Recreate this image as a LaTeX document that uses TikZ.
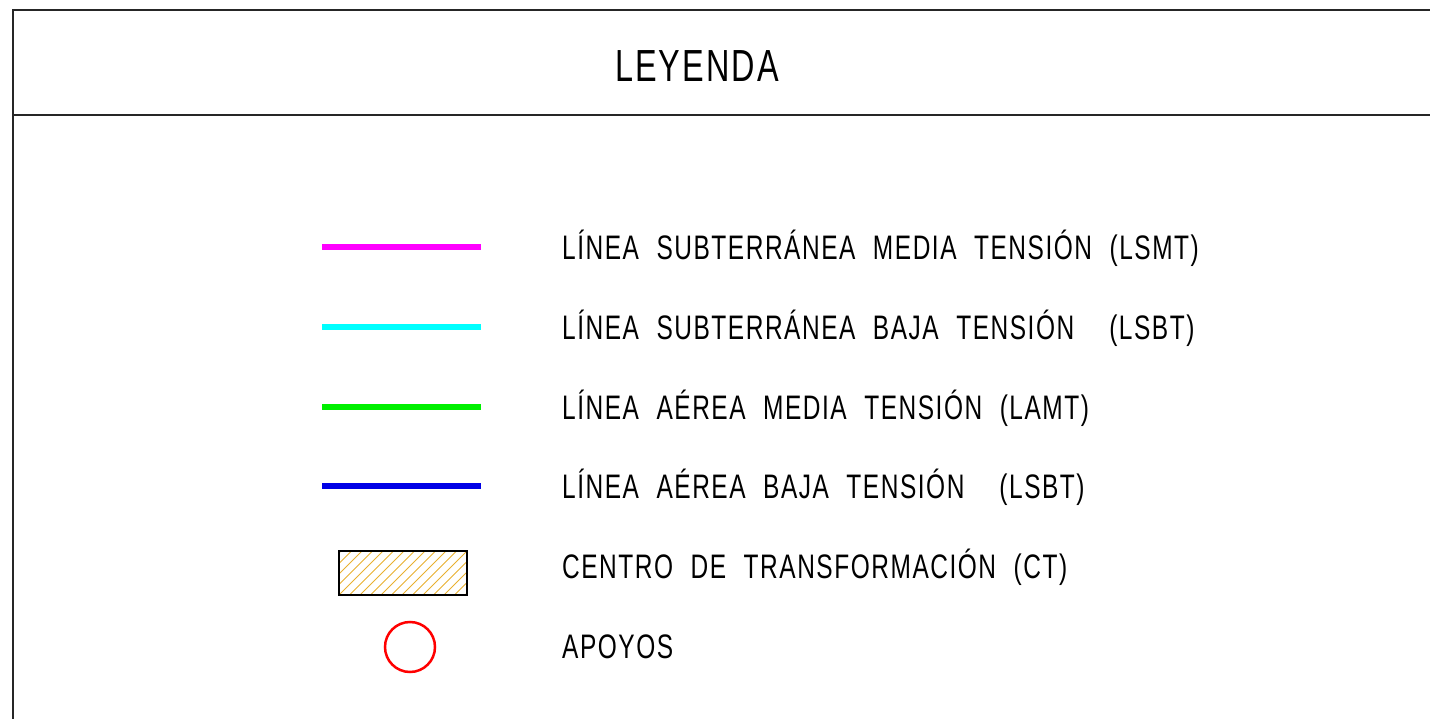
\documentclass[tikz,border=0pt]{standalone}
\usepackage{fontspec}
\newfontfamily\cadfont[FakeStretch=0.72,LetterSpace=4.5,WordSpace=2.1]{Liberation Sans}
\usetikzlibrary{positioning}
\definecolor{lsmt}{RGB}{255,0,255}
\definecolor{lsbt}{RGB}{0,255,255}
\definecolor{lamt}{RGB}{0,240,0}
\definecolor{labt}{RGB}{0,0,230}
\definecolor{hatchc}{RGB}{232,176,48}

\begin{document}
\begin{tikzpicture}[x=1pt,y=-1pt,
		frame/.style={line width=1.6pt,black!85},
		legline/.style={line width=6.5pt},
		legtext/.style={anchor=west,inner sep=0pt,font=\cadfont\fontsize{34}{34}\selectfont},
		title/.style={inner sep=0pt,font=\cadfont\fontsize{45}{45}\selectfont},
		hatch/.style={hatchc,line width=1pt}]
		\useasboundingbox (0,0) rectangle (1430,719);

		% frame
		\draw[frame] (1430,10) -- (13,10) -- (13,719);
		\draw[frame] (13,115) -- (1430,115);
		\node[title] (tit) at (697,66) {LEYENDA};

		% lines
		\draw[legline,lsmt] (322,247) -- (481,247);
		\node[legtext] (tLSMT) at (562,248) {LÍNEA SUBTERRÁNEA MEDIA TENSIÓN (LSMT)};
		\draw[legline,lsbt] (322,327) -- (481,327);
		\node[legtext] (tLSBT) at (562,328) {LÍNEA SUBTERRÁNEA BAJA TENSIÓN\ \ (LSBT)};
		\draw[legline,lamt] (322,407) -- (481,407);
		\node[legtext] (tLAMT) at (562,408) {LÍNEA AÉREA MEDIA TENSIÓN (LAMT)};
		\draw[legline,labt] (322,486) -- (481,486);
		\node[legtext] (tLABT) at (562,487) {LÍNEA AÉREA BAJA TENSIÓN\ \ (LSBT)};

		% CT
		\begin{scope}
			\clip (339,551) rectangle (467,595);
			\foreach \i in {-5,...,13}
				\draw[hatch] (339+\i*10.5,595) -- ++(50,-50);
		\end{scope}
		\draw[line width=1.2pt] (339,551) rectangle (467,595);
		\node[legtext] (tCT) at (562,567) {CENTRO DE TRANSFORMACIÓN (CT)};

		% apoyos
		\node[draw=red,line width=2.5pt,circle,minimum size=50pt,inner sep=0pt] (apoyo) at (410,647) {};
		\node[legtext] (tAP) at (562,647) {APOYOS};
	\end{tikzpicture}
\end{document}
